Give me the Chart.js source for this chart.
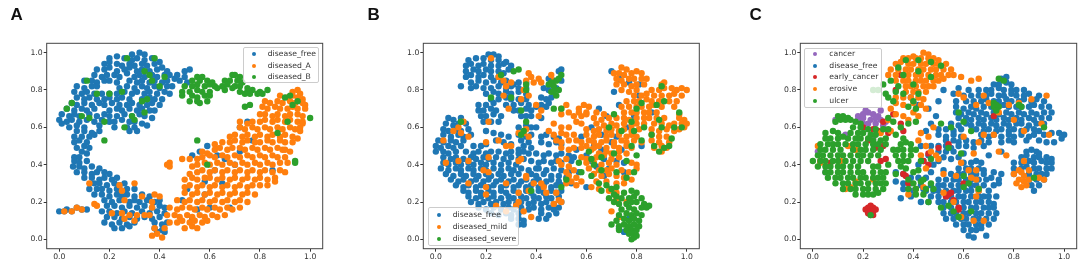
<!DOCTYPE html>
<html>
<head>
<meta charset="utf-8">
<script src="https://cdn.jsdelivr.net/npm/chart.js@4/dist/chart.umd.min.js"></script>
<style>
html,body{margin:0;padding:0;background:#fff;width:1084px;height:266px;overflow:hidden}
.panel{position:absolute;top:0;height:266px}
canvas{position:absolute;left:0;top:0;filter:blur(.45px)}
.letter{position:absolute;top:5px;font:bold 17px "Liberation Sans",sans-serif;color:#111}
.legend{position:absolute;box-sizing:border-box;background:rgba(255,255,255,.8);border:1px solid #ccc;border-radius:2px;font:7.7px "DejaVu Sans",sans-serif;color:#333}
.legend div{position:absolute;white-space:nowrap;line-height:10px;height:10px}
.legend i{position:absolute;width:4px;height:4px;border-radius:50%}
</style>
</head>
<body>
<script>
const aFree = [
.29,.99,.32,1,.34,.99,
.2,.97,.23,.98,.26,.97,.29,.96,.31,.97,.34,.96,.37,.97,
.18,.94,.2,.95,.23,.94,.25,.93,.28,.94,.3,.93,.33,.94,.35,.93,.38,.94,.4,.95,
.15,.91,.18,.91,.2,.92,.23,.9,.26,.91,.28,.92,.31,.9,.33,.91,.36,.9,.39,.91,.41,.92,.43,.9,
.14,.88,.17,.87,.19,.88,.22,.88,.24,.87,.27,.89,.3,.87,.32,.88,.34,.87,.37,.88,.39,.87,.42,.88,.44,.88,
.1,.85,.13,.85,.15,.84,.18,.85,.2,.85,.23,.84,.28,.85,.31,.84,.33,.85,.36,.84,.38,.85,.41,.84,.43,.85,.46,.86,
.07,.82,.1,.81,.13,.82,.15,.82,.24,.81,.27,.82,.3,.81,.33,.82,.35,.81,.38,.82,.4,.81,.43,.82,.45,.82,
.06,.79,.09,.78,.11,.79,.14,.78,.17,.78,.2,.78,.23,.78,.26,.79,.29,.78,.31,.79,.34,.78,.36,.79,.39,.78,.42,.79,.44,.78,
.07,.76,.1,.75,.12,.76,.15,.75,.18,.75,.2,.76,.23,.75,.25,.76,.28,.75,.33,.75,.36,.76,.38,.75,.41,.75,
.05,.73,.07,.72,.1,.73,.13,.72,.16,.73,.18,.72,.21,.73,.24,.72,.27,.72,.29,.73,.32,.72,.35,.72,.37,.73,.4,.72,
.03,.7,.06,.69,.09,.7,.11,.69,.14,.7,.2,.69,.23,.7,.25,.69,.28,.7,.31,.69,.33,.7,.36,.69,.38,.69,
.01,.67,.04,.66,.06,.67,.08,.66,.12,.67,.15,.66,.18,.67,.2,.66,.23,.66,.26,.67,.29,.66,.32,.67,.34,.66,.37,.65,
0,.64,.03,.63,.05,.64,.08,.63,.11,.64,.14,.63,.17,.64,.2,.63,.22,.63,.25,.64,.28,.63,.3,.63,.33,.62,.35,.61,
.01,.62,.04,.6,.07,.61,.1,.6,.16,.61,.22,.6,.27,.6,.3,.6,.31,.58,
.07,.58,.1,.58,.13,.57,.16,.58,.28,.58,
.06,.55,.09,.55,.12,.55,.14,.56,.06,.52,.08,.53,.11,.52,.07,.49,.1,.5,.12,.49,.09,.47,.11,.46,
.06,.44,.08,.44,.06,.42,.08,.41,.11,.42,.055,.39,.08,.39,.1,.38,.13,.39,.16,.38,
.07,.36,.1,.36,.13,.35,.15,.36,.18,.36,.2,.35,.1,.33,.13,.33,.16,.32,.18,.33,.21,.32,.23,.33,
.14,.3,.16,.3,.19,.29,.22,.3,.24,.29,.26,.3,.12,.27,.15,.27,.17,.27,.2,.26,.23,.27,.25,.26,.27,.27,.3,.27,
.14,.24,.17,.24,.2,.23,.23,.24,.25,.23,.27,.24,.3,.23,.33,.24,.36,.23,
.18,.21,.21,.2,.24,.21,.28,.2,.3,.21,.32,.2,.35,.21,.38,.2,.4,.21,
.19,.18,.22,.18,.25,.17,.28,.18,.31,.17,.34,.18,.37,.17,.4,.18,.42,.17,
0,.15,.03,.16,.05,.15,.07,.17,.09,.16,.11,.16,.02,.15,
.17,.15,.2,.15,.23,.14,.26,.15,.29,.14,.33,.15,.36,.14,.39,.15,.42,.14,
.19,.12,.22,.12,.25,.11,.28,.12,.31,.11,.34,.12,.37,.11,.4,.12,
.18,.09,.21,.08,.24,.09,.27,.08,.3,.09,.38,.09,.41,.08,.43,.09,.22,.06,.25,.06,.28,.07,.38,.06,.41,.05,.39,.04,.42,.04,
.5,.9,.52,.91,.47,.88,.5,.87,.48,.85,.51,.84,
.75,.63,.66,.43,.59,.5,.56,.47,.51,.27,.62,.37,.7,.4,.65,.3,.58,.24,.55,.16,.49,.21,.72,.47,.77,.53,.85,.37,.53,.11,.6,.17,.68,.17,.72,.6,.63,.45,.53,.45,.58,.31
];
const aDisA = [
.93,.79,.95,.8,.96,.78,.88,.77,.91,.76,.93,.77,.95,.76,.97,.75,
.82,.74,.84,.73,.87,.74,.89,.73,.92,.74,.94,.73,.97,.73,.98,.72,
.81,.71,.83,.7,.86,.71,.88,.7,.91,.7,.93,.71,.95,.7,.98,.7,
.8,.67,.82,.67,.85,.66,.87,.67,.9,.66,.92,.67,.95,.67,.97,.66,
.72,.63,.75,.62,.77,.63,.8,.63,.82,.64,.85,.63,.87,.64,.9,.63,.92,.64,.95,.63,.97,.63,
.72,.6,.74,.59,.77,.6,.79,.59,.82,.6,.84,.59,.87,.6,.89,.59,.92,.6,.94,.59,.96,.58,
.68,.55,.7,.56,.73,.55,.75,.56,.78,.55,.8,.56,.83,.55,.85,.56,.88,.55,.9,.56,.93,.55,.95,.54,
.62,.51,.65,.52,.68,.52,.7,.53,.73,.52,.75,.53,.78,.52,.8,.52,.83,.53,.85,.52,.88,.53,.9,.52,.93,.52,
.57,.47,.59,.46,.62,.48,.64,.49,.67,.48,.69,.49,.72,.49,.74,.48,.77,.49,.79,.48,.82,.49,.84,.48,.87,.49,.89,.48,.92,.47,
.55,.43,.57,.44,.6,.45,.62,.44,.65,.45,.67,.44,.7,.45,.72,.44,.75,.45,.77,.44,.8,.45,.82,.44,.85,.45,.87,.44,.9,.44,
.53,.39,.55,.4,.58,.41,.6,.4,.63,.41,.65,.4,.68,.41,.7,.4,.73,.41,.75,.4,.78,.41,.8,.4,.83,.41,.85,.4,.88,.41,.91,.41,
.52,.35,.55,.36,.57,.37,.6,.36,.62,.37,.65,.36,.67,.37,.7,.36,.72,.37,.75,.36,.77,.37,.8,.36,.82,.37,.85,.36,.88,.37,.9,.36,
.5,.32,.53,.33,.55,.32,.58,.33,.6,.33,.63,.32,.65,.33,.68,.32,.7,.33,.73,.32,.75,.33,.78,.32,.8,.33,.83,.32,.86,.33,
.5,.28,.52,.29,.55,.28,.57,.29,.6,.28,.62,.29,.65,.28,.67,.29,.7,.28,.72,.29,.75,.28,.77,.29,.8,.29,.83,.29,
.5,.25,.53,.24,.55,.25,.58,.24,.6,.25,.63,.24,.65,.25,.68,.24,.7,.25,.73,.24,.75,.25,.78,.24,
.47,.21,.5,.2,.52,.21,.55,.2,.57,.21,.6,.2,.62,.21,.65,.2,.67,.21,.7,.2,.72,.21,.75,.2,
.44,.17,.47,.16,.49,.17,.52,.17,.54,.16,.57,.17,.59,.16,.62,.17,.64,.16,.67,.17,.69,.16,.72,.17,
.43,.13,.46,.13,.48,.12,.51,.13,.53,.12,.56,.13,.58,.12,.61,.13,.63,.12,.66,.13,
.44,.09,.47,.09,.49,.1,.52,.09,.54,.1,.57,.09,.59,.1,.5,.06,.53,.07,.55,.06,
.43,.4,.44,.41,.44,.39,.52,.43,.49,.43,.9,.48,.96,.6,.97,.62,.86,.31,
.25,.14,.28,.13,.31,.13,.3,.1,.34,.13,.21,.14,.26,.21,.24,.29,.12,.3,.15,.18,.14,.19,.37,.2,.38,.24,.33,.23,.37,.17,.4,.23,.36,.13,.26,.11,
.02,.15,.05,.15,.07,.17,.09,.16,.39,.03,.41,.01,.38,.06,.42,.06,.37,.02,.25,.26,.3,.3
];
const aDisB = [
.55,.87,.57,.87,.69,.88,.7,.88,.72,.87,.53,.85,.56,.85,.59,.85,.61,.84,.66,.85,.68,.85,.71,.85,.73,.84,
.5,.82,.53,.82,.55,.83,.58,.82,.6,.83,.62,.82,.65,.82,.67,.83,.7,.82,.72,.82,.75,.81,
.49,.79,.52,.79,.55,.8,.57,.79,.6,.79,.63,.81,.66,.8,.69,.81,.72,.79,.75,.79,.77,.8,.8,.79,.83,.8,
.49,.77,.53,.77,.55,.76,.58,.77,.6,.77,.74,.78,.76,.78,.79,.78,.81,.78,.52,.74,.55,.74,.56,.73,.59,.74,.74,.71,.76,.72,
.05,.73,.11,.85,.15,.78,.2,.78,.12,.65,.18,.53,.26,.6,.3,.64,.34,.9,.36,.88,.37,.85,.42,.87,.4,.82,.38,.97,.27,.97,.33,.74,.29,.66,.34,.68,.35,.75,.03,.7,.09,.66,.18,.63,.25,.79,
.9,.76,.92,.77,.95,.74,.93,.72,.91,.63,.87,.57,1,.65,.94,.42,.94,.41,.55,.53,.59,.4
];
const bFree = [
.21,.99,.23,.99,.25,.98,
.13,.96,.16,.97,.19,.97,.22,.96,.25,.96,.28,.95,
.12,.93,.14,.94,.17,.93,.19,.94,.22,.93,.25,.93,.27,.94,.3,.93,
.12,.9,.15,.91,.17,.9,.2,.91,.22,.9,.25,.9,.27,.89,.29,.91,
.12,.87,.14,.88,.17,.87,.19,.88,.22,.87,.25,.87,.14,.84,.17,.85,.2,.84,.23,.85,.26,.84,.28,.85,.31,.83,.33,.84,.36,.84,
.1,.82,.14,.81,.16,.82,.19,.81,.22,.81,.25,.82,.28,.81,.3,.82,.33,.81,.36,.81,.2,.78,.23,.79,.25,.78,.28,.79,.3,.78,.33,.79,.36,.78,
.22,.75,.25,.75,.28,.76,.3,.75,.33,.75,.36,.75,.17,.72,.2,.72,.23,.73,.28,.72,.31,.72,.34,.73,.37,.72,
.17,.69,.19,.69,.22,.7,.24,.69,.31,.69,.33,.69,.36,.7,.38,.69,.18,.66,.2,.66,.23,.67,.26,.66,.34,.66,.36,.66,.19,.63,.22,.63,.25,.63,
.49,.9,.5,.91,.45,.86,.47,.85,.5,.85,.43,.81,.45,.8,.48,.81,.42,.76,.44,.75,.46,.76,.42,.72,.44,.71,.45,.73,
.05,.65,.07,.64,.1,.65,.04,.62,.07,.61,.09,.62,.12,.62,.03,.59,.05,.58,.08,.59,.1,.58,.13,.59,.03,.56,.06,.55,.09,.56,.11,.55,.14,.56,
.01,.53,.03,.52,.06,.53,.08,.52,.11,.53,0,.5,.02,.49,.05,.5,.07,.49,.1,.5,.15,.5,.18,.5,.2,.51,
0,.47,.03,.47,.05,.46,.08,.47,.12,.47,.15,.46,.17,.47,.2,.46,.22,.47,.25,.47,.28,.46,.3,.47,.33,.46,.35,.47,
.03,.44,.06,.43,.08,.44,.11,.43,.14,.44,.16,.43,.19,.44,.21,.43,.24,.44,.27,.43,.3,.44,
.03,.41,.05,.4,.08,.41,.1,.4,.13,.41,.15,.4,.18,.41,.2,.4,.23,.41,.26,.4,.29,.41,.32,.4,
.02,.38,.05,.37,.08,.38,.1,.37,.13,.38,.15,.37,.18,.38,.2,.37,.23,.38,.26,.37,.29,.38,.31,.37,.34,.38,.37,.37,.4,.38,
.04,.35,.07,.34,.1,.35,.12,.34,.15,.35,.17,.34,.2,.35,.22,.34,.25,.35,.27,.34,.3,.35,.33,.35,.38,.35,.4,.34,.43,.35,.46,.34,
.06,.32,.09,.31,.11,.32,.14,.31,.16,.32,.19,.31,.21,.32,.24,.31,.26,.32,.29,.31,.31,.32,.34,.31,.36,.32,.39,.31,.41,.32,.44,.31,.46,.32,.49,.31,
.08,.29,.11,.28,.13,.29,.16,.28,.18,.29,.21,.28,.23,.29,.26,.28,.28,.29,.31,.28,.33,.29,.36,.28,.38,.29,.41,.28,.43,.29,.46,.28,.48,.29,.5,.29,
.11,.26,.13,.25,.16,.26,.18,.25,.21,.26,.23,.25,.26,.26,.28,.25,.31,.26,.33,.25,.36,.26,.38,.25,.41,.26,.43,.25,.46,.26,.48,.25,.5,.26,
.13,.23,.16,.22,.18,.23,.21,.22,.23,.23,.26,.22,.29,.23,.31,.22,.34,.23,.36,.22,.39,.23,.41,.22,.44,.23,.46,.22,.49,.23,
.14,.2,.17,.19,.19,.2,.22,.19,.24,.2,.27,.19,.29,.2,.32,.19,.34,.2,.37,.19,.39,.2,.42,.19,.44,.2,.47,.19,.5,.2,
.17,.17,.2,.16,.23,.17,.26,.16,.29,.17,.31,.16,.34,.17,.37,.16,.39,.17,.42,.16,.45,.17,.47,.16,.49,.17,
.22,.14,.25,.13,.28,.14,.3,.13,.33,.14,.42,.14,.45,.13,.48,.14,.3,.11,.33,.11,.35,.1,.41,.11,.44,.11,.33,.08,.35,.08,
.33,.6,.36,.61,.38,.6,.33,.56,.36,.55,.38,.56,.34,.53,.37,.52,.42,.55,.44,.56,.47,.55,.49,.54,.42,.52,.45,.51,.48,.52,.5,.51,.35,.5,.38,.49,
.4,.46,.43,.45,.45,.46,.48,.45,.5,.46,.53,.45,.55,.44,.38,.42,.41,.41,.43,.42,.46,.41,.48,.42,.5,.41,.41,.38,.44,.37,.47,.38,.5,.37,.53,.36,.49,.34,.52,.33,
.2,.58,.23,.57,.26,.56,.29,.55,.24,.53,.27,.52,.3,.51,.33,.48,.37,.46,.33,.43,.38,.66,.4,.6,.42,.65,.4,.71,.35,.43,
.7,.9,.73,.86,.77,.84,.81,.83,.71,.79,.73,.72,.65,.7,.68,.66,.62,.6,.66,.56,.7,.52,.74,.48,.67,.43,.62,.42,.6,.45,.64,.39,.69,.38,.72,.42,.75,.36,.67,.34,.81,.77,.86,.68,.79,.66,.76,.6,.63,.5,.66,.48,.72,.55,.82,.5,.75,.41,.58,.55,.56,.48,.54,.42,.57,.36,.54,.3,.6,.28,.73,.06,.75,.04,.77,.11,.7,.27
];
const bMild = [
.22,.97,.25,.87,.27,.85,.3,.84,.28,.82,.27,.77,.34,.75,.29,.7,.21,.63,.11,.63,.09,.6,.07,.58,.03,.53,.1,.57,.13,.55,.2,.52,.25,.53,.28,.5,.3,.5,.33,.42,.34,.43,.21,.44,.13,.42,.09,.42,.04,.41,
.21,.36,.19,.37,.13,.3,.2,.28,.2,.24,.28,.3,.33,.25,.36,.33,.37,.26,.39,.3,.43,.28,.44,.25,.48,.25,.49,.21,.5,.2,.42,.3,.35,.15,.33,.2,.38,.12,.24,.18,.28,.15,.32,.18,.47,.19,.36,.34,
.37,.89,.38,.87,.36,.85,.39,.84,.41,.86,.42,.84,.46,.88,.47,.85,.35,.8,.37,.77,.4,.72,.42,.69,.41,.66,.33,.57,.36,.59,.35,.57,.37,.55,
.5,.7,.52,.72,.5,.67,.53,.68,.47,.62,.5,.6,.53,.6,.57,.7,.59,.72,.61,.71,.55,.66,.58,.66,.6,.68,.56,.63,.58,.62,
.45,.58,.47,.56,.5,.57,.52,.56,.55,.56,.48,.53,.5,.52,.53,.53,.56,.53,.58,.52,.61,.53,.5,.49,.53,.48,.55,.49,.58,.49,.6,.5,.62,.48,
.49,.42,.52,.43,.5,.4,.53,.39,.52,.36,.55,.37,.53,.34,.56,.33,.52,.3,.54,.31,.56,.29,.58,.31,
.74,.92,.76,.91,.71,.89,.73,.89,.75,.88,.78,.89,.8,.9,.82,.89,.72,.86,.74,.85,.77,.86,.79,.86,.82,.86,.84,.86,.72,.83,.75,.83,.78,.82,.8,.83,.83,.83,.9,.83,.91,.84,
.74,.8,.77,.79,.8,.8,.86,.8,.89,.8,.91,.81,.94,.81,.96,.8,.98,.81,1,.8,.79,.77,.82,.77,.84,.78,.87,.77,.9,.77,.93,.77,.95,.78,.98,.77,
.76,.74,.79,.74,.81,.74,.84,.75,.86,.74,.89,.74,.93,.74,.96,.74,.74,.71,.77,.71,.8,.71,.82,.71,.85,.71,.87,.72,.9,.71,.95,.71,
.57,.68,.6,.67,.64,.68,.67,.67,.75,.68,.78,.68,.8,.68,.83,.68,.85,.68,.88,.68,.97,.67,
.63,.65,.66,.64,.69,.65,.72,.65,.75,.65,.77,.64,.8,.65,.83,.65,.85,.65,.88,.65,.91,.65,.97,.65,.99,.64,
.64,.62,.67,.61,.7,.62,.72,.61,.75,.62,.78,.61,.8,.62,.83,.62,.87,.62,.9,.62,.93,.61,.95,.62,.98,.62,1,.62,
.6,.59,.63,.58,.65,.59,.68,.58,.7,.59,.73,.58,.75,.59,.78,.58,.81,.59,.86,.59,.89,.58,.92,.59,.95,.58,.97,.59,.99,.6,
.6,.56,.63,.55,.65,.56,.68,.55,.7,.56,.73,.56,.76,.55,.78,.56,.8,.55,.86,.56,.89,.55,.92,.55,.63,.52,.66,.52,.68,.53,.71,.52,.74,.53,.76,.52,.79,.53,.82,.52,.86,.53,.89,.52,.93,.52,
.63,.49,.65,.5,.68,.49,.71,.5,.73,.49,.76,.5,.78,.49,.87,.49,.9,.5,.92,.49,.9,.47,.65,.46,.68,.47,.7,.46,.73,.47,.76,.46,.58,.44,.6,.43,.64,.44,.67,.45,.7,.43,.73,.44,
.6,.41,.63,.41,.66,.4,.69,.41,.72,.4,.78,.41,.8,.4,.61,.38,.65,.37,.68,.37,.7,.38,.74,.37,.77,.36,.63,.35,.66,.34,.69,.35,.72,.34,.75,.33,.78,.32,.8,.38,.64,.31,.68,.31,.72,.3,.75,.3,.62,.28,.65,.27,.69,.26,.72,.25,.7,.15,.73,.12,.76,.2,.72,.22
];
const bSevere = [
.46,.84,.47,.82,.48,.85,.49,.8,.46,.79,.48,.77,.45,.83,.49,.86,.5,.88,.47,.79,.31,.9,.33,.91,.26,.88,.36,.83,.36,.8,.3,.76,.22,.76,.34,.69,.36,.63,.35,.58,.34,.56,.1,.63,.5,.7,.47,.7,
.78,.26,.75,.25,.8,.25,.72,.23,.74,.22,.77,.22,.79,.23,.82,.22,.71,.2,.73,.19,.76,.19,.78,.2,.8,.2,.83,.19,.74,.16,.77,.17,.79,.16,.82,.17,.84,.17,.85,.18,
.73,.13,.76,.14,.78,.13,.8,.14,.82,.13,.72,.1,.75,.11,.77,.1,.79,.11,.81,.1,.7,.08,.73,.07,.75,.08,.77,.07,.79,.08,.81,.07,.73,.05,.76,.05,.78,.05,.8,.05,.77,.03,.79,.03,.79,.01,.78,0,.8,.02,
.65,.3,.68,.29,.7,.27,.66,.26,.72,.28,.71,.24,.69,.22,.62,.34,.66,.37,.63,.4,.72,.36,.76,.33,.79,.36,.76,.42,.71,.46,.66,.44,.62,.43,.8,.45,.78,.5,.82,.53,.79,.58,.83,.6,.78,.63,.8,.7,.82,.73,.71,.67,.69,.6,.74,.58,
.87,.5,.89,.47,.91,.49,.93,.5,.94,.54,.86,.56,.9,.6,.89,.64,.95,.6,.98,.6,.97,.68,.91,.74,.88,.72,.9,.82,.58,.36,.52,.32,.57,.41,.61,.47,.5,.28,.38,.26
];
const cCancer = [
.18,.66,.2,.67,.22,.68,.24,.67,.26,.66,.18,.64,.2,.65,.23,.64,.25,.65,.27,.64,.2,.62,.22,.62,.25,.62,.28,.61,.29,.63,.09,.64,.02,.47,.05,.36,.13,.56,.24,.54,.21,.69,.27,.69
];
const cFree = [
.75,.86,.77,.87,.72,.83,.74,.83,.77,.84,.79,.83,.62,.8,.66,.8,.69,.8,.71,.8,.74,.81,.76,.8,.79,.8,.81,.8,.84,.8,
.6,.77,.63,.77,.66,.77,.69,.77,.71,.78,.74,.77,.76,.77,.79,.78,.81,.77,.84,.77,.86,.78,.9,.77,
.57,.74,.61,.74,.64,.74,.67,.74,.69,.75,.72,.74,.74,.74,.77,.75,.79,.74,.82,.74,.84,.75,.87,.74,.89,.75,.92,.74,
.57,.71,.6,.7,.63,.71,.65,.7,.68,.71,.71,.71,.73,.71,.76,.72,.78,.71,.81,.71,.83,.71,.86,.71,.88,.72,.91,.71,.94,.71,
.57,.68,.59,.67,.62,.68,.64,.67,.67,.68,.69,.67,.72,.68,.74,.67,.77,.68,.79,.67,.82,.68,.84,.67,.87,.68,.89,.67,.92,.68,.95,.68,
.58,.65,.61,.65,.63,.64,.66,.65,.68,.64,.71,.65,.73,.64,.76,.65,.78,.64,.81,.65,.83,.64,.86,.65,.88,.64,.91,.65,.94,.65,
.55,.62,.58,.61,.61,.62,.63,.61,.66,.62,.68,.61,.71,.62,.73,.61,.76,.62,.78,.61,.81,.62,.83,.62,.86,.61,.89,.62,.92,.62,
.5,.59,.53,.59,.56,.58,.59,.59,.65,.59,.68,.58,.7,.59,.73,.58,.75,.59,.78,.58,.8,.59,.83,.58,.85,.59,.88,.59,.9,.58,
.5,.56,.53,.55,.56,.56,.59,.55,.67,.56,.7,.55,.72,.56,.75,.55,.78,.56,.8,.55,.83,.56,.86,.55,.88,.56,.92,.56,.95,.57,.98,.57,1,.56,
.53,.53,.56,.53,.58,.52,.61,.53,.64,.52,.67,.53,.7,.52,.75,.52,.78,.53,.8,.52,.85,.53,.9,.53,.93,.52,.96,.52,.99,.54,
.5,.5,.53,.5,.55,.49,.58,.5,.61,.5,.64,.49,.68,.5,.7,.45,.75,.47,.5,.47,.53,.47,.56,.47,.6,.46,.85,.47,.87,.48,.89,.47,.9,.46,
.52,.44,.55,.43,.58,.44,.83,.44,.85,.45,.88,.44,.9,.44,.93,.44,.95,.43,
.6,.41,.63,.41,.65,.42,.67,.41,.8,.41,.83,.41,.86,.42,.88,.41,.91,.42,.93,.41,.95,.41,
.58,.38,.61,.38,.63,.38,.66,.38,.68,.37,.8,.38,.83,.38,.85,.39,.88,.38,.9,.38,.93,.38,.95,.38,
.55,.35,.58,.35,.6,.35,.63,.35,.65,.35,.68,.35,.72,.36,.75,.35,.8,.35,.86,.35,.89,.35,.91,.35,.93,.35,
.5,.32,.53,.32,.56,.32,.58,.32,.61,.32,.63,.32,.66,.32,.69,.32,.71,.33,.74,.32,.86,.32,.89,.32,.92,.32,
.47,.29,.5,.29,.52,.29,.55,.29,.58,.29,.6,.29,.63,.29,.65,.29,.68,.29,.72,.29,.74,.3,.87,.29,.9,.29,.88,.26,
.45,.26,.48,.26,.5,.26,.53,.26,.56,.26,.58,.26,.61,.26,.63,.26,.66,.26,.7,.26,.73,.23,
.47,.23,.5,.23,.53,.23,.55,.23,.58,.23,.6,.23,.63,.23,.66,.23,.68,.23,.7,.23,
.46,.2,.5,.2,.52,.2,.55,.2,.57,.2,.6,.2,.62,.2,.65,.2,.67,.2,.7,.2,.72,.19,
.52,.17,.55,.17,.58,.17,.6,.17,.63,.17,.65,.17,.68,.17,.7,.17,.72,.17,
.52,.14,.55,.14,.57,.14,.6,.14,.62,.14,.65,.14,.67,.14,.7,.14,.73,.14,
.53,.11,.56,.11,.59,.11,.61,.11,.64,.11,.66,.11,.69,.11,.72,.11,
.57,.08,.6,.08,.62,.08,.65,.08,.67,.08,.7,.08,.6,.05,.63,.05,.65,.05,.67,.06,.69,.02,.62,.02,.64,.01,
.33,.36,.36,.35,.39,.33,.42,.33,.33,.31,.36,.3,.39,.3,.43,.29,.36,.27,.4,.26,.44,.27,.35,.22,.39,.23,.43,.2,
.39,.76,.42,.72,.46,.7,.5,.74,.52,.8,.56,.78,.58,.81,.49,.66,.47,.62,.45,.58,.43,.5,.47,.5,.46,.45,.44,.42,.42,.4,.48,.4,.5,.42,.47,.36,.52,.37,.45,.33
];
const cEarly = [
.21,.16,.22,.17,.23,.18,.24,.17,.25,.16,.22,.15,.23,.15,.24,.15,.23,.13,.22,.14,.24,.13,
.24,.59,.2,.6,.26,.58,.28,.63,.3,.57,.22,.53,.25,.49,.29,.43,.28,.5,.27,.42,.36,.35,.37,.34,.38,.3,.44,.42,.46,.46,.46,.4,.5,.49,
.55,.25,.54,.24,.53,.23,.56,.21,.58,.17,.58,.16,.6,.3,.54,.51,.72,.66,.35,.62,.36,.58,.03,.42,.07,.41,.32,.67,.33,.8,.35,.88
];
const cErosive = [
.44,1,.46,.99,.4,.98,.36,.97,.38,.97,.41,.97,.43,.97,.46,.97,.48,.97,.5,.96,
.33,.94,.35,.95,.38,.94,.4,.94,.43,.94,.45,.94,.48,.94,.5,.94,.53,.94,.31,.91,.34,.91,.37,.91,.39,.91,.42,.91,.44,.91,.47,.91,.49,.91,.52,.91,.55,.91,
.3,.88,.33,.88,.36,.88,.38,.88,.41,.88,.43,.88,.46,.88,.49,.88,.51,.88,.54,.88,.56,.88,
.33,.85,.36,.85,.38,.85,.41,.85,.43,.85,.45,.85,.48,.85,.5,.85,.52,.86,.37,.82,.39,.82,.41,.82,.44,.82,.46,.82,.48,.82,
.37,.79,.4,.79,.42,.79,.45,.79,.33,.76,.36,.76,.39,.76,.42,.76,.44,.75,.33,.73,.36,.72,.4,.73,.43,.72,.45,.7,.4,.68,.42,.66,.38,.64,.31,.7,.33,.67,.36,.66,.3,.64,
.48,.6,.46,.55,.43,.57,.42,.53,.45,.5,.47,.47,.43,.45,.49,.45,.45,.38,.41,.27,.38,.24,.44,.28,.5,.43,.52,.35,
.59,.87,.58,.78,.6,.76,.65,.72,.66,.86,.63,.85,.68,.77,.6,.55,.66,.52,.64,.46,.59,.41,.62,.37,.65,.37,.57,.34,.63,.33,.65,.32,.66,.27,.66,.26,.65,.23,.52,.25,.56,.2,.59,.12,.64,.1,.68,.1,
.7,.73,.74,.68,.78,.72,.82,.73,.8,.64,.84,.58,.87,.75,.91,.62,.94,.56,.93,.77,.77,.45,.74,.47,.72,.56,.68,.56,
.82,.37,.84,.34,.86,.37,.8,.35,.82,.32,.84,.31,.85,.29,.83,.28,.86,.32,.83,.36,.9,.33,.92,.32,.84,.42,.81,.3,
.03,.41,.14,.5,.17,.48,.27,.57,.31,.58,.11,.42,.15,.28,.13,.27,.24,.32,.17,.31,.02,.5
];
const cUlcer = [
.1,.66,.12,.66,.14,.65,.11,.64,.13,.64,.15,.64,.09,.63,.17,.63,.19,.62,.16,.6,.19,.6,.22,.59,.25,.59,.28,.59,
.05,.57,.08,.58,.1,.57,.15,.57,.18,.57,.2,.57,.23,.56,.25,.56,
.05,.54,.07,.54,.1,.54,.12,.55,.14,.54,.17,.54,.19,.54,.22,.54,.24,.53,.27,.53,.29,.54,
.03,.51,.06,.51,.08,.51,.1,.51,.13,.51,.16,.51,.18,.51,.21,.51,.24,.51,.26,.51,.29,.51,.35,.51,.37,.52,.39,.51,
.03,.48,.05,.48,.08,.48,.11,.48,.16,.48,.19,.48,.21,.48,.24,.48,.27,.48,.34,.48,.36,.48,.39,.48,
.02,.45,.04,.45,.07,.45,.1,.45,.12,.45,.15,.45,.18,.45,.2,.45,.23,.45,.26,.45,.33,.45,.36,.45,.39,.45,
0,.42,.03,.42,.05,.42,.08,.42,.1,.42,.13,.42,.16,.42,.19,.42,.22,.42,.34,.42,.36,.42,.38,.42,
.02,.39,.05,.39,.07,.39,.1,.39,.12,.39,.15,.39,.18,.39,.24,.39,.26,.39,.35,.39,.37,.38,
.05,.36,.07,.36,.1,.36,.12,.36,.15,.36,.18,.36,.2,.36,.24,.36,.27,.36,.29,.36,
.06,.33,.09,.33,.11,.33,.14,.33,.16,.33,.19,.33,.21,.33,.24,.33,.26,.33,.28,.33,
.09,.3,.12,.3,.14,.3,.17,.3,.19,.3,.22,.3,.25,.3,.27,.3,.29,.3,.4,.3,.43,.31,
.12,.27,.15,.27,.17,.27,.2,.27,.22,.27,.25,.27,.28,.27,.38,.27,.41,.27,.45,.27,.17,.24,.2,.24,.22,.24,.24,.24,.26,.25,.41,.24,.44,.24,.23,.13,
.3,.65,.32,.63,.35,.6,.38,.62,.41,.63,.3,.76,.32,.74,.28,.83,.31,.85,.34,.82,.33,.79,.29,.78,.26,.8,.24,.8,.36,.78,.4,.74,.42,.78,.38,.71,.41,.7,.34,.92,.37,.96,.42,.9,.47,.95,.42,.96,.51,.93,.36,.88,.47,.87,.4,.83,
.3,.59,.33,.56,.36,.54,.32,.48,.3,.4,.33,.35,.38,.32,.4,.36,.42,.37,.43,.42,.44,.32,.47,.3,.48,.27,.46,.2,.51,.17,.54,.18,.56,.15,.58,.12,.6,.28,.62,.3,.63,.15,.59,.46,.55,.6,.63,.58,.6,.63,.58,.68,
.72,.73,.73,.72,.72,.71,.74,.71,.73,.69,.83,.71,.82,.72,.74,.86,.76,.85,.92,.6,.66,.27,.88,.33,.51,.62,.54,.49,.41,.48,.47,.43,.6,.34
];
const tickColor = '#333';
const blue = '#1f77b4', orange = '#ff7f0e', green = '#2ca02c', red = '#d62728', purple = '#9467bd';

const frame = {
  id: 'frame',
  afterDraw(c) {
    const a = c.chartArea, x = c.ctx;
    x.save(); x.strokeStyle = '#444'; x.lineWidth = 1;
    x.strokeRect(a.left, a.top, a.right - a.left, a.bottom - a.top);
    x.restore();
  }
};

function pts(flat) {
  const out = [];
  for (let i = 0; i < flat.length; i += 2) out.push({x: flat[i], y: flat[i + 1]});
  return out;
}

function axis(extra) {
  return Object.assign({
    type: 'linear', min: -0.05, max: 1.05,
    grid: {drawOnChartArea: false, drawTicks: true, tickLength: 3, color: tickColor},
    border: {display: false},
    ticks: {stepSize: 0.2, includeBounds: false, padding: 1, color: tickColor, maxRotation: 0, autoSkip: false,
      font: {family: 'DejaVu Sans', size: 7.7}, callback: v => v.toFixed(1)}
  }, extra);
}

function panel(left, width, plotLeft, plotRight, letter, letterX, series, legend) {
  const box = document.createElement('div');
  box.className = 'panel';
  box.style.left = left + 'px';
  box.style.width = width + 'px';
  const cv = document.createElement('canvas');
  cv.width = width; cv.height = 266;
  box.appendChild(cv);
  document.body.appendChild(box);
  new Chart(cv, {
    type: 'scatter',
    data: {datasets: series.map((s, i) => ({label: s.name, data: pts(s.data), order: series.length - i, backgroundColor: s.color, borderWidth: 0, pointRadius: 3.2, pointHoverRadius: 3.2}))},
    options: {
      responsive: false, animation: false, events: [],
      layout: {padding: {left: 0, right: width - (plotRight - left), top: 43.3, bottom: 0}},
      plugins: {legend: {display: false}, tooltip: {enabled: false}},
      scales: {
        x: axis({afterFit(s) { s.height = 266 - 248.7; }}),
        y: axis({afterFit(s) { s.width = plotLeft - left; }})
      }
    },
    plugins: [frame]
  });
  const l = document.createElement('div');
  l.className = 'letter';
  l.textContent = letter;
  l.style.left = letterX + 'px';
  document.body.appendChild(l);
  const g = document.createElement('div');
  g.className = 'legend';
  g.style.cssText = `left:${legend.x - left}px;top:${legend.y}px;width:${legend.w}px;height:${legend.h}px`;
  series.forEach((s, i) => {
    const row = document.createElement('div');
    row.textContent = s.name;
    row.style.left = legend.text + 'px';
    row.style.top = (legend.first + i * 11.65 - 5) + 'px';
    const dot = document.createElement('i');
    dot.style.background = s.color;
    dot.style.left = (legend.dot - legend.text - 2) + 'px';
    dot.style.top = '3px';
    row.appendChild(dot);
    g.appendChild(row);
  });
  box.appendChild(g);
}

panel(0, 340, 46.7, 322.7, 'A', 10.5, [
  {name: 'disease_free', data: aFree, color: blue},
  {name: 'diseased_A', data: aDisA, color: orange},
  {name: 'diseased_B', data: aDisB, color: green}
], {x: 242.7, y: 46.7, w: 76.7, h: 36.6, text: 24, dot: 10, first: 6.5});

panel(360, 345, 423.3, 699.3, 'B', 367.5, [
  {name: 'disease_free', data: bFree, color: blue},
  {name: 'diseased_mild', data: bMild, color: orange},
  {name: 'diseased_severe', data: bSevere, color: green}
], {x: 427.7, y: 207.3, w: 91.6, h: 38.7, text: 24, dot: 10, first: 7.2});

panel(740, 344, 800.3, 1076.7, 'C', 749.5, [
  {name: 'cancer', data: cCancer, color: purple},
  {name: 'disease_free', data: cFree, color: blue},
  {name: 'early_cancer', data: cEarly, color: red},
  {name: 'erosive', data: cErosive, color: orange},
  {name: 'ulcer', data: cUlcer, color: green}
], {x: 804.3, y: 47.7, w: 77.4, h: 60.6, text: 24, dot: 10, first: 5.5});
</script>
</body>
</html>
